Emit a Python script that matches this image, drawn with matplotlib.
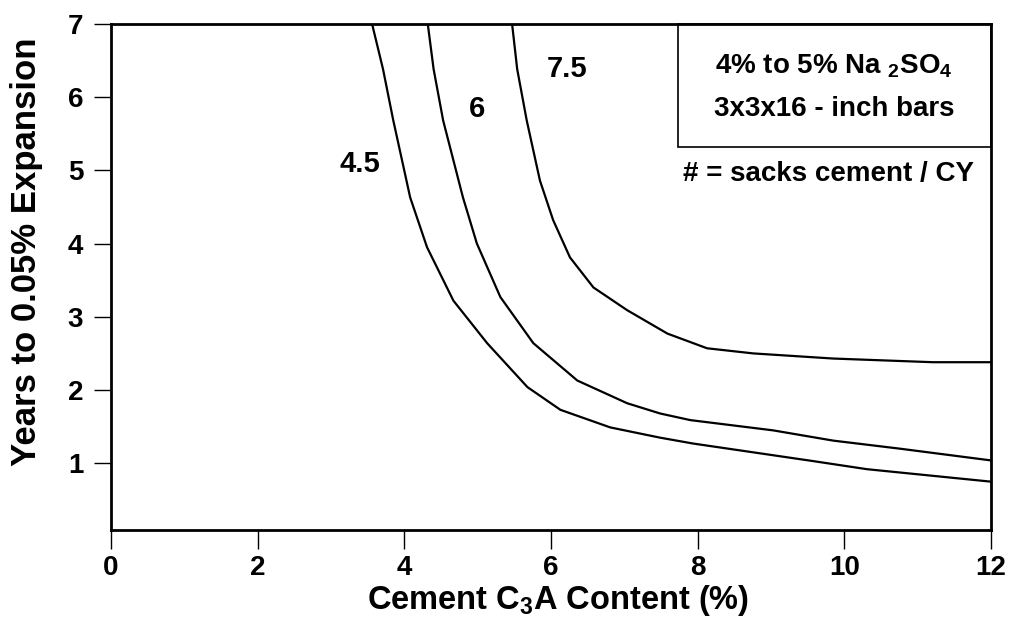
import matplotlib
matplotlib.use("Agg")
import matplotlib.pyplot as plt
from matplotlib.patches import Rectangle

plt.rcParams['font.family'] = ['Liberation Sans', 'DejaVu Sans']
plt.rcParams['font.weight'] = 'bold'
plt.rcParams['mathtext.fontset'] = 'custom'
plt.rcParams['mathtext.rm'] = 'Liberation Sans:bold'
plt.rcParams['mathtext.it'] = 'Liberation Sans:bold'
plt.rcParams['mathtext.bf'] = 'Liberation Sans:bold'
plt.rcParams['mathtext.default'] = 'rm'

# C3A content (%) vs years to 0.05% expansion, by cement content (sacks/CY)
c45_x = [3.56, 3.71, 3.85, 3.94, 4.08, 4.31, 4.67, 5.13, 5.68, 6.13, 6.81, 7.49, 7.94, 9.58, 10.31, 12]
c45_y = [7.0, 6.38, 5.68, 5.27, 4.63, 3.95, 3.22, 2.64, 2.04, 1.73, 1.49, 1.35, 1.27, 1.03, 0.92, 0.75]

c6_x = [4.32, 4.40, 4.53, 4.80, 4.99, 5.31, 5.76, 6.36, 7.04, 7.49, 7.9, 9.03, 9.85, 10.76, 12]
c6_y = [7.0, 6.38, 5.68, 4.63, 4.0, 3.27, 2.64, 2.13, 1.82, 1.68, 1.59, 1.45, 1.31, 1.2, 1.04]

c75_x = [5.47, 5.54, 5.67, 5.85, 6.03, 6.26, 6.58, 7.04, 7.59, 8.13, 8.76, 9.85, 11.21, 12]
c75_y = [7.0, 6.38, 5.68, 4.86, 4.32, 3.81, 3.40, 3.09, 2.77, 2.57, 2.50, 2.43, 2.38, 2.38]

curve_labels = ["4.5", "6", "7.5"]
label_pos = [(3.40, 5.08), (4.99, 5.83), (6.22, 6.38)]

x_ticks = [0, 2, 4, 6, 8, 10, 12]
y_ticks = [1, 2, 3, 4, 5, 6, 7]

fig = plt.figure(figsize=(10.09, 6.33), dpi=100)
ax = fig.add_axes([0.110, 0.1627, 0.872, 0.7999])

for xs, ys in [(c45_x, c45_y), (c6_x, c6_y), (c75_x, c75_y)]:
    ax.plot(xs, ys, color='black', linewidth=1.6, solid_joinstyle='round',
            solid_capstyle='round')

for lab, (lx, ly) in zip(curve_labels, label_pos):
    ax.text(lx, ly, lab, fontsize=21, fontweight='bold', ha='center', va='center')

ax.set_xlim(0, 12)
ax.set_ylim(0.09, 7)
ax.set_xticks(x_ticks)
ax.set_yticks(y_ticks)
ax.tick_params(axis='x', direction='out', length=14, width=1.0, labelsize=20, pad=4)
ax.tick_params(axis='y', direction='out', length=12, width=1.0, labelsize=20, pad=8)
for s in ax.spines.values():
    s.set_linewidth(2.0)

ax.set_xlabel("Cement C$_3$A Content (%)", fontsize=23.5, fontweight='bold')
ax.set_ylabel("Years to 0.05% Expansion", fontsize=25, fontweight='bold')
ax.xaxis.set_label_coords(0.508, -0.105)
ax.yaxis.set_label_coords(-0.077, 0.549)

# info box
ax.add_patch(Rectangle((7.73, 5.32), 12 - 7.73, 7 - 5.32, fill=False,
                       edgecolor='black', linewidth=1.2, clip_on=False))
ax.text(9.86, 6.42, "4% to 5% Na $_2$SO$_4$", fontsize=20, fontweight='bold',
        ha='center', va='center')
ax.text(9.86, 5.84, "3x3x16 - inch bars", fontsize=20, fontweight='bold',
        ha='center', va='center')
ax.text(9.78, 4.95, "# = sacks cement / CY", fontsize=20, fontweight='bold',
        ha='center', va='center')

fig.savefig("out.png", dpi=100)
